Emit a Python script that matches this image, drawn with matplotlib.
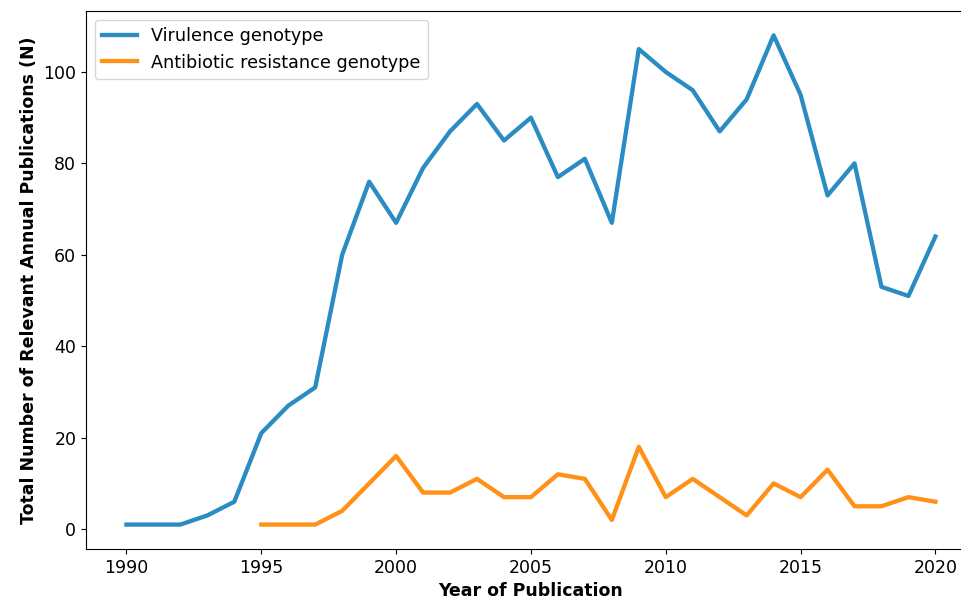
import matplotlib
matplotlib.use("Agg")
import matplotlib.pyplot as plt

years_vir = list(range(1990, 2021))
virulence = [1, 1, 1, 3, 6, 21, 27, 31, 60, 76, 67, 79, 87, 93, 85, 90,
             77, 81, 67, 105, 100, 96, 87, 94, 108, 95, 73, 80, 53, 51, 64]

years_abr = list(range(1995, 2021))
antibiotic = [1, 1, 1, 4, 10, 16, 8, 8, 11, 7, 7, 12, 11, 2, 18, 7,
              11, 7, 3, 10, 7, 13, 5, 5, 7, 6]

fig = plt.figure(figsize=(9.62, 6.06), dpi=100)
# right edge of the axes falls outside the figure, as in the cropped original
ax = fig.add_axes([0.0894, 0.094, 0.925, 0.888])

ax.plot(years_vir, virulence, color="#2b8cc4", linewidth=3.1, label="Virulence genotype")
ax.plot(years_abr, antibiotic, color="#ff9118", linewidth=3.1, label="Antibiotic resistance genotype")

ax.set_xticks(range(1990, 2021, 5))
ax.tick_params(labelsize=12.5)
ax.set_xlabel("Year of Publication", fontsize=12.5, fontweight="bold")
ax.set_ylabel("Total Number of Relevant Annual Publications (N)", fontsize=12.5, fontweight="bold")
ax.legend(loc="upper left", fontsize=12.7)

fig.savefig("out.png", dpi=100)
